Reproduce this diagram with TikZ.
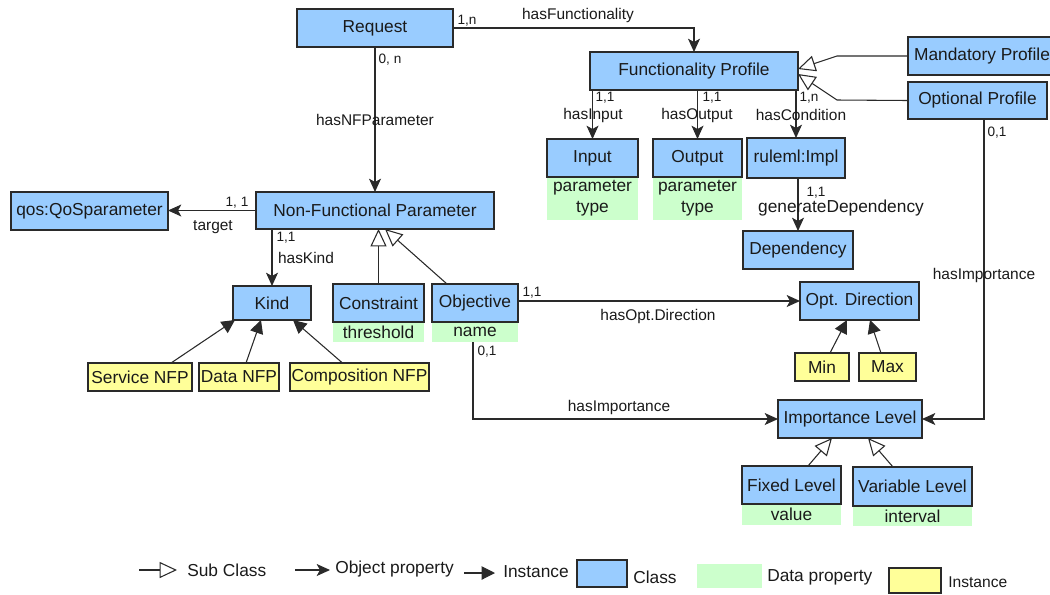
\documentclass[tikz,border=0pt]{standalone}
\usepackage{fontspec}
\setmainfont{Liberation Sans}
\usetikzlibrary{arrows.meta,calc}
\definecolor{clsblue}{HTML}{99CCFF}
\definecolor{dpgreen}{HTML}{CCFFCC}
\definecolor{instyellow}{HTML}{FFFF99}
\definecolor{edgec}{HTML}{2A2A2A}
\definecolor{txtc}{HTML}{1A1A1A}
\newcommand{\boxfont}{\fontsize{13}{15.75}\selectfont}
\newcommand{\lblfont}{\fontsize{11.6}{13}\selectfont}
\newcommand{\multfont}{\fontsize{10.2}{11}\selectfont}
\newcommand{\bx}[7][cls]{\node[#1, minimum width={(#4-#2)*0.75pt}, minimum height={(#5-#3)*0.75pt}] (#6) at ({(#2+#4)/2},{(#3+#5)/2}) {#7};}
\begin{document}
\begin{tikzpicture}[x=0.75pt,y=-0.75pt,
  cls/.style={draw=edgec, line width=0.9pt, fill=clsblue, inner sep=0pt, outer sep=0pt, font=\boxfont, text=txtc, align=center},
  dp/.style={fill=dpgreen, inner sep=0pt, outer sep=0pt, font=\boxfont, text=txtc, align=center},
  inst/.style={draw=edgec, line width=0.9pt, fill=instyellow, inner sep=0pt, outer sep=0pt, font=\boxfont, text=txtc},
  lbl/.style={font=\lblfont, inner sep=0pt, text=txtc},
  mult/.style={font=\multfont, inner sep=0pt, text=txtc},
  legtxt/.style={font=\boxfont, inner sep=0pt, anchor=west, text=txtc},
  op/.style={draw=edgec, line width=0.8pt, -{Stealth[length=10pt,width=9pt,inset=2.5pt]}},
  ins/.style={draw=edgec, line width=0.8pt, -{Triangle[length=10pt,width=10pt]}},
  sub/.style={draw=edgec, line width=0.8pt, -{Triangle[open,length=13pt,width=12pt,fill=white]}}
]
\useasboundingbox (0,0) rectangle (1050,594);

% data property boxes (drawn first)
\bx[dp]{547}{177}{638}{220}{inpd}{parameter\\type}
\bx[dp]{653}{177}{742}{220}{outd}{parameter\\type}
\bx[dp]{333}{322}{424}{342}{consd}{threshold}
\bx[dp]{432}{322}{518}{342}{objd}{name}
\bx[dp]{742}{504}{841}{525}{fixd}{value}
\bx[dp]{853}{506}{972}{526}{vard}{interval}

% classes
\bx{297}{9}{453}{47}{req}{Request}
\bx{590}{52}{798}{90}{fp}{Functionality Profile}
\bx{908}{37}{1056}{75}{mand}{Mandatory Profile}
\bx{908}{82}{1047}{119}{optp}{Optional Profile}
\bx{547}{139}{638}{177}{inp}{Input}
\bx{653}{139}{742}{177}{outp}{Output}
\bx{747}{138}{845}{178}{rule}{ruleml:Impl}
\bx{743}{231}{853}{269}{dep}{Dependency}
\bx{11}{192}{168}{230}{qos}{qos:QoSparameter}
\bx{256}{192}{494}{229}{nfp}{Non-Functional Parameter}
\bx{233}{286}{311}{320}{kind}{Kind}
\bx{333}{284}{424}{322}{cons}{Constraint}
\bx{432}{284}{518}{322}{obj}{Objective}
\bx{800}{282}{919}{320}{optd}{Opt. Direction}
\bx{778}{400}{922}{438}{imp}{Importance Level}
\bx{742}{466}{841}{504}{fix}{Fixed Level}
\bx{853}{467}{972}{506}{var}{Variable Level}

% instances
\bx[inst]{88}{363}{192}{391}{snfp}{Service NFP}
\bx[inst]{199}{363}{279}{391}{dnfp}{Data NFP}
\bx[inst]{290}{363}{429}{391}{cnfp}{Composition NFP}
\bx[inst]{795}{353}{849}{381}{min}{Min}
\bx[inst]{859}{353}{916}{381}{max}{Max}

% object properties
\draw[op] (req.east) -| (fp.north);
\draw[op] (req.south) -- (req.south |- nfp.north);
\draw[op] (inp.north |- fp.south) -- (inp.north);
\draw[op] (outp.north |- fp.south) -- (outp.north);
\draw[op] (rule.north |- fp.south) -- (rule.north);
\draw[op] (dep.north |- rule.south) -- (dep.north);
\draw[op] (nfp.west) -- (nfp.west -| qos.east);
\draw[op] (kind.north |- nfp.south) -- (kind.north);
\draw[op] (obj.east |- optd.west) -- (optd.west);
\draw[op] ($(objd.south)+(-2,0)$) |- (imp.west);
\draw[op] ($(optp.south)+(6.5,0)$) |- (imp.east);

% subclasses
\draw[sub] (mand.west) -- (837,56) -- ($(fp.east)+(0,-2)$);
\draw[sub] (optp.west) -- (837,100) -- ($(fp.east)+(0,3)$);
\draw[sub] (cons.north) -- (cons.north |- nfp.south);
\draw[sub] ($(obj.north west)+(15,0)$) -- ($(nfp.south)+(10,0)$);
\draw[sub] ($(fix.north)+(16.5,0)$) -- ($(imp.south)+(-18,0)$);
\draw[sub] ($(var.north)+(-19.5,0)$) -- ($(imp.south)+(18,0)$);

% instance links
\draw[ins] ($(snfp.north)+(31,0)$) -- ($(kind.south)+(-37,0)$);
\draw[ins] ($(dnfp.north)+(7,0)$) -- ($(kind.south)+(-11,0)$);
\draw[ins] ($(cnfp.north)+(-17,0)$) -- ($(kind.south)+(21,0)$);
\draw[ins] ($(min.north)+(8,0)$) -- ($(optd.south)+(-12.5,0)$);
\draw[ins] ($(max.north)+(-6.5,0)$) -- ($(optd.south)+(10.5,0)$);

% labels
\node[mult] (m1) at (467,21) {1,n};
\node[lbl] (l1) at (578,15) {hasFunctionality};
\node[mult] (m2) at (390,60) {0, n};
\node[lbl] (l2) at (375,120) {hasNFParameter};
\node[mult] (m3) at (605,98) {1,1};
\node[lbl] (l3) at (593,115) {hasInput};
\node[mult] (m4) at (712,98) {1,1};
\node[lbl] (l4) at (697,115) {hasOutput};
\node[mult] (m5) at (809,98) {1,n};
\node[lbl] (l5) at (801,115) {hasCondition};
\node[mult] (m6) at (816,193) {1,1};
\node[lbl, font=\boxfont] (l6) at (841,208) {generateDependency};
\node[mult] (m7) at (237,203) {1, 1};
\node[lbl] (l7) at (213,227) {target};
\node[mult] (m8) at (286,238) {1,1};
\node[lbl] (l8) at (306,258) {hasKind};
\node[mult] (m9) at (532,293) {1,1};
\node[lbl] (l9) at (658,316) {hasOpt.Direction};
\node[mult] (m10) at (487,352) {0,1};
\node[lbl] (l10) at (619,407) {hasImportance};
\node[mult] (m11) at (997,133) {0,1};
\node[lbl] (l11) at (984,275) {hasImportance};

% legend
\coordinate (ls1) at (139,570); \coordinate (ls2) at (177,570);
\draw[sub] (ls1) -- (ls2);
\node[legtxt] (lt1) at (187,570) {Sub Class};
\coordinate (lo1) at (295,570); \coordinate (lo2) at (330,570);
\draw[op] (lo1) -- (lo2);
\node[legtxt] (lt2) at (335,569) {Object property};
\coordinate (li1) at (464,573); \coordinate (li2) at (495,573);
\draw[ins] (li1) -- (li2);
\node[legtxt] (lt3) at (503,572) {Instance};
\bx{577}{560}{627}{587}{lgc}{}
\node[legtxt] (lt4) at (633,577) {Class};
\bx[dp]{697}{564}{762}{588}{lgd}{}
\node[legtxt] (lt5) at (767,577) {Data property};
\bx[inst]{889}{568}{941}{593}{lgi}{}
\node[legtxt, font=\fontsize{11.7}{13}\selectfont] (lt6) at (948,582) {Instance};
\end{tikzpicture}
\end{document}
